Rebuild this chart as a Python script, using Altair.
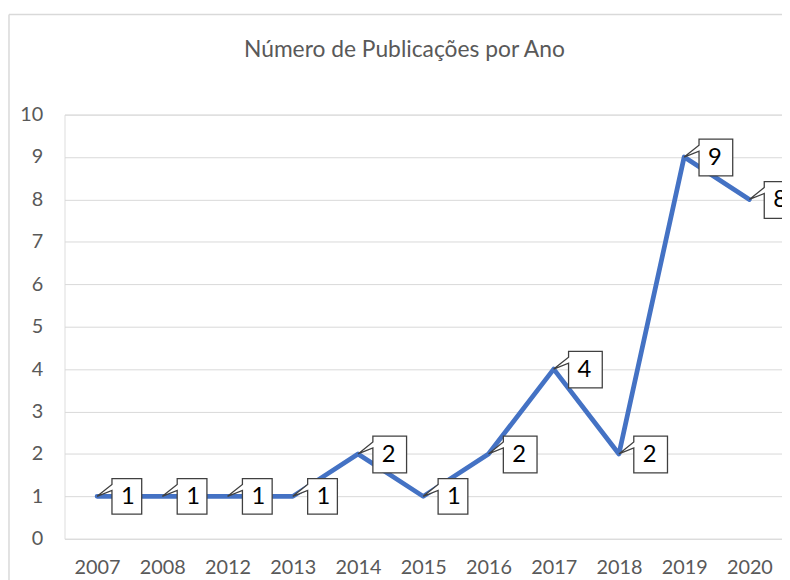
import altair as alt
import pandas as pd

years = ["2007", "2008", "2012", "2013", "2014", "2015", "2016", "2017", "2018", "2019", "2020"]
counts = [1, 1, 1, 1, 2, 1, 2, 4, 2, 9, 8]
y_ticks = [0, 1, 2, 3, 4, 5, 6, 7, 8, 9, 10]
title_text = "Número de Publicações por Ano"

kinds = ["n" if c == 1 else "w" for c in counts]
df = pd.DataFrame({"ano": years, "n": counts, "kind": kinds})

FONT = "Lato"
GRAY = "#595959"

path_n = "M0,0 L15,-12 L15,-18 L45,-18 L45,18 L15,18 L15,-6 Z"
path_w = "M0,0 L15,-12 L15,-18 L49,-18 L49,19 L15,19 L15,-6 Z"

xenc = alt.X("ano:O", sort=years,
             scale=alt.Scale(type="point", padding=0.5),
             axis=alt.Axis(title=None, labelAngle=0, grid=False, domain=False, ticks=False,
                           labelPadding=19, labelFontSize=20, labelColor=GRAY, labelFont=FONT))
yenc = alt.Y("n:Q", scale=alt.Scale(domain=[0, 10], nice=False),
             axis=alt.Axis(title=None, values=y_ticks, grid=True, gridColor="#d9d9d9", gridWidth=1,
                           domain=False, ticks=False, labelPadding=22, labelFontSize=20,
                           labelColor=GRAY, labelFont=FONT))

base = alt.Chart(df)

line = base.mark_line(color="#4472C4", strokeWidth=4.8, strokeJoin="round", strokeCap="round").encode(
    x=xenc, y=yenc)

boxes = base.mark_point(fill="white", stroke="#404040", strokeWidth=1.3, opacity=1, size=4).encode(
    x=alt.X("ano:O", sort=years),
    y="n:Q",
    shape=alt.Shape("kind:N", scale=alt.Scale(domain=["n", "w"], range=[path_n, path_w]), legend=None),
)

labels = base.mark_text(dx=31, dy=1, fontSize=24, font=FONT, color="#000000", baseline="middle",
                        align="center").encode(
    x=alt.X("ano:O", sort=years), y="n:Q", text="n:Q")

frame_data = alt.Data(values=[{"k": 1}])
frame_left = alt.Chart(frame_data).mark_rule(color="#d9d9d9", strokeWidth=1.5).encode(
    x=alt.value(-56), y=alt.value(-101), y2=alt.value(480))
frame_top = alt.Chart(frame_data).mark_rule(color="#d9d9d9", strokeWidth=1.5).encode(
    x=alt.value(-56), x2=alt.value(760), y=alt.value(-101))
title_mark = alt.Chart(frame_data).mark_text(fontSize=23, font=FONT, color=GRAY, align="center",
                                              baseline="alphabetic").encode(
    x=alt.value(343), y=alt.value(-58), text=alt.value(title_text))

chart = alt.layer(frame_left, frame_top, title_mark, line, boxes, labels).properties(
    width=724, height=428,
    autosize=alt.AutoSizeParams(type="none"),
    padding={"left": 57, "top": 105, "right": 0, "bottom": 39},
).configure_view(stroke=None).configure(background="white")

chart.save("out.html", embed_options={"renderer": "svg", "actions": False})
